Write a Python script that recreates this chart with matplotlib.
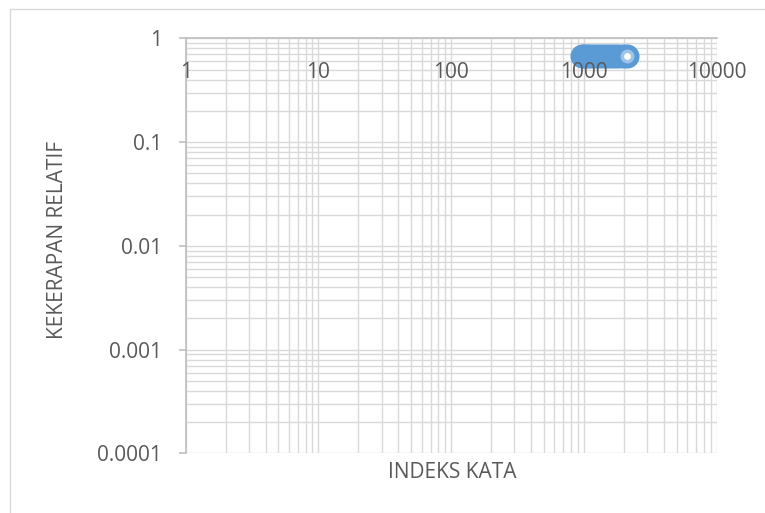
import matplotlib.pyplot as plt
from matplotlib.patches import Rectangle
from matplotlib.ticker import NullFormatter, FixedLocator

plt.rcParams['font.family'] = ['Open Sans', 'DejaVu Sans']

# word index vs relative frequency
indeks = [970, 1010, 1060, 1120, 1190, 1270, 1360, 1460, 1570, 1690, 1820, 1960, 2110]
kekerapan = [0.675, 0.675, 0.675, 0.675, 0.675, 0.675, 0.675, 0.675, 0.675, 0.675, 0.675, 0.675, 0.675]

x_ticks = [1, 10, 100, 1000, 10000]
x_labels = ['1', '10', '100', '1000', '10000']
y_ticks = [0.0001, 0.001, 0.01, 0.1, 1]
y_labels = ['0.0001', '0.001', '0.01', '0.1', '1']

text_col = '#595959'
grid_col = '#d9d9d9'
axis_col = '#bfbfbf'
blue = '#5B9BD5'

rect = [0.2427, 0.1164, 0.6941, 0.8090]
fig = plt.figure(figsize=(7.65, 5.13), dpi=100)
ax = fig.add_axes(rect)
# overlay axes that only carries the x tick labels, so they sit above the markers
ax_lab = fig.add_axes(rect, frameon=False, zorder=2)

for a in (ax, ax_lab):
    a.set_xscale('log')
    a.set_yscale('log')
    a.set_xlim(1, 10000)
    a.set_ylim(0.0001, 1)
    a.xaxis.set_major_locator(FixedLocator(x_ticks))
    a.xaxis.set_minor_formatter(NullFormatter())
    a.yaxis.set_minor_formatter(NullFormatter())

ax.yaxis.set_major_locator(FixedLocator(y_ticks))
ax.set_yticklabels(y_labels)

ax.grid(True, which='both', color=grid_col, lw=1)
ax.set_axisbelow(True)

# x axis crosses at y = 1
ax.spines['bottom'].set_position(('data', 1))
ax.spines['bottom'].set_color(axis_col)
ax.spines['bottom'].set_linewidth(1.2)
ax.spines['left'].set_color(axis_col)
ax.spines['left'].set_linewidth(1.2)
ax.spines['top'].set_visible(False)
ax.spines['right'].set_visible(False)

ax.tick_params(axis='x', which='both', length=0, labelbottom=False)
ax.tick_params(axis='y', which='major', length=5, width=1.2, color=axis_col, pad=12,
               labelsize=15, labelcolor=text_col)
ax.tick_params(axis='y', which='minor', length=0)

ax_lab.set_xticklabels(x_labels)
ax_lab.spines['bottom'].set_position(('data', 1))
ax_lab.tick_params(axis='x', which='both', length=0, pad=17, labelsize=15, labelcolor=text_col)
ax_lab.tick_params(axis='y', which='both', left=False, labelleft=False)
ax_lab.patch.set_visible(False)

ax.scatter(indeks, kekerapan, s=300, c=blue, edgecolors=blue, lw=0, zorder=3, clip_on=False)
ax.scatter(indeks[-1], kekerapan[-1], s=100, c='#9DC3E6', lw=0, zorder=4, clip_on=False)
ax.scatter(indeks[-1], kekerapan[-1], s=24, c='white', lw=0, zorder=5, clip_on=False)

fig.text(452 / 765, 1 - 473 / 513, 'INDEKS KATA', ha='center', va='center',
         fontsize=15, color=text_col)
fig.text(58 / 765, 1 - 240 / 513, 'KEKERAPAN RELATIF', ha='center', va='center',
         rotation=90, fontsize=15, color=text_col)

# chart area border
fig.add_artist(Rectangle((10 / 765, -1), 2, 2 - 9 / 513, transform=fig.transFigure,
                         fill=False, edgecolor=grid_col, lw=1))

fig.savefig('out.png', dpi=100)
